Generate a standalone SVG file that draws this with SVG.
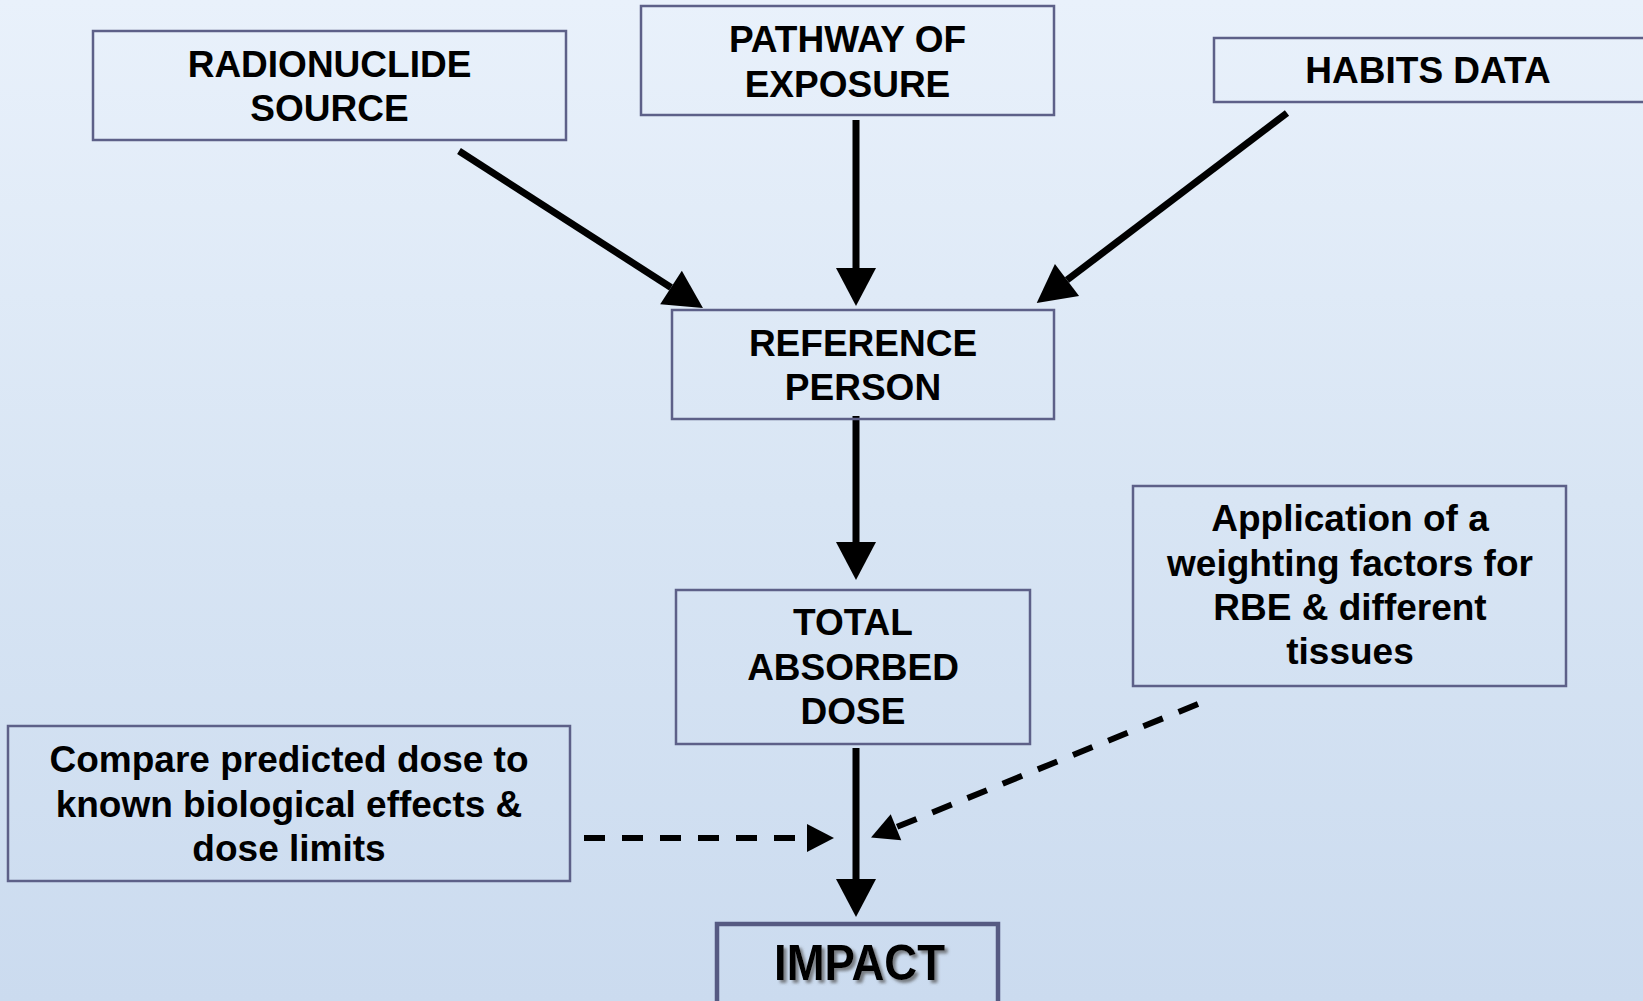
<svg xmlns="http://www.w3.org/2000/svg" width="1643" height="1001" viewBox="0 0 1643 1001">
  <defs>
    <linearGradient id="bg" x1="0" y1="0" x2="0" y2="1">
      <stop offset="0" stop-color="#e9f1fb"/>
      <stop offset="0.5" stop-color="#d8e5f4"/>
      <stop offset="1" stop-color="#cbdbef"/>
    </linearGradient>
    <marker id="head" markerUnits="userSpaceOnUse" markerWidth="38" markerHeight="40" refX="0" refY="20" orient="auto" overflow="visible">
      <path d="M0,0 L38,20 L0,40 z" fill="#000"/>
    </marker>
    <marker id="headSmall" markerUnits="userSpaceOnUse" markerWidth="27" markerHeight="28" refX="0" refY="14" orient="auto" overflow="visible">
      <path d="M0,0 L27,14 L0,28 z" fill="#000"/>
    </marker>
    <filter id="shadow" x="-10%" y="-20%" width="130%" height="150%">
      <feDropShadow dx="3" dy="3" stdDeviation="1.8" flood-color="#555" flood-opacity="0.7"/>
    </filter>
  </defs>
  <style>
    .box { fill: none; stroke: #5d6088; stroke-width: 2.5; }
    .boxBold { fill: none; stroke: #565a82; stroke-width: 4.5; }
    .t { font-family: "Liberation Sans", Arial, sans-serif; font-weight: bold; font-size: 37px; fill: #000; text-anchor: middle; }
    .big { font-size: 50px; }
    .solid { stroke: #000; stroke-width: 7; fill: none; marker-end: url(#head); }
    .dash { stroke: #000; stroke-width: 6; fill: none; stroke-dasharray: 21 17; marker-end: url(#headSmall); }
  </style>
  <rect x="0" y="0" width="1643" height="1001" fill="url(#bg)"/>

  <g id="connectors">
    <line class="solid" x1="459" y1="151" x2="671" y2="287.5"/>
    <line class="solid" x1="856" y1="120" x2="856" y2="268"/>
    <line class="solid" x1="1287" y1="113" x2="1067" y2="280"/>
    <line class="solid" x1="856" y1="416" x2="856" y2="542"/>
    <line class="solid" x1="856" y1="748" x2="856" y2="879"/>
    <line class="dash" x1="584" y1="838" x2="807" y2="838"/>
    <line class="dash" x1="1198" y1="704" x2="896" y2="827.3"/>
  </g>

  <g id="radionuclide-source">
    <rect class="box" x="93" y="31" width="473" height="109"/>
    <text class="t" x="329.5" y="77">RADIONUCLIDE</text>
    <text class="t" x="329.5" y="121">SOURCE</text>
  </g>

  <g id="pathway-of-exposure">
    <rect class="box" x="641" y="6" width="413" height="109"/>
    <text class="t" x="847.5" y="52">PATHWAY OF</text>
    <text class="t" x="847.5" y="97">EXPOSURE</text>
  </g>

  <g id="habits-data">
    <rect class="box" x="1214" y="38" width="460" height="64"/>
    <text class="t" x="1428" y="83">HABITS DATA</text>
  </g>

  <g id="reference-person">
    <rect class="box" x="672" y="310" width="382" height="109"/>
    <text class="t" x="863" y="355.5">REFERENCE</text>
    <text class="t" x="863" y="400">PERSON</text>
  </g>

  <g id="total-absorbed-dose">
    <rect class="box" x="676" y="590" width="354" height="154"/>
    <text class="t" x="853" y="635">TOTAL</text>
    <text class="t" x="853" y="680">ABSORBED</text>
    <text class="t" x="853" y="724">DOSE</text>
  </g>

  <g id="compare">
    <rect class="box" x="8" y="726" width="562" height="155"/>
    <text class="t" x="289" y="772">Compare predicted dose to</text>
    <text class="t" x="289" y="817">known biological effects &amp;</text>
    <text class="t" x="289" y="861">dose limits</text>
  </g>

  <g id="application">
    <rect class="box" x="1133" y="486" width="433" height="200"/>
    <text class="t" x="1350" y="531">Application of a</text>
    <text class="t" x="1350" y="576">weighting factors for</text>
    <text class="t" x="1350" y="620">RBE &amp; different</text>
    <text class="t" x="1350" y="664">tissues</text>
  </g>

  <g id="impact">
    <rect class="boxBold" x="717" y="924" width="281" height="95"/>
    <text class="t big" x="859.5" y="980" textLength="171" lengthAdjust="spacingAndGlyphs" filter="url(#shadow)">IMPACT</text>
  </g>
</svg>
